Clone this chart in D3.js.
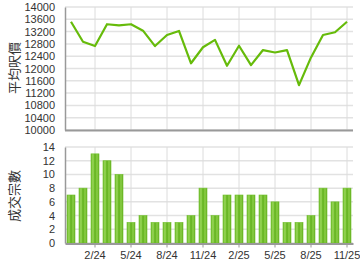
<!DOCTYPE html>
<html>
<head>
<meta charset="utf-8">
<script src="https://cdn.jsdelivr.net/npm/d3@7"></script>
<style>
    body { margin: 0; background: #fff; }
    svg text { font-family: "Liberation Sans", Arial, sans-serif; fill: #333; }
    .title { font-family: "Noto Sans CJK TC", sans-serif; font-size: 13px; }
</style>
</head>
<body>
<div id="chart"></div>
<script>

// months (12/23 .. 11/25)
let months = ["12/23","1/24","2/24","3/24","4/24","5/24","6/24","7/24","8/24","9/24","10/24","11/24",
              "12/24","1/25","2/25","3/25","4/25","5/25","6/25","7/25","8/25","9/25","10/25","11/25"];

// average price per sq ft
let avgPrice = [13520, 12870, 12730, 13440, 13400, 13440, 13230, 12730, 13090, 13220, 12170, 12690,
                12930, 12090, 12740, 12110, 12600, 12520, 12600, 11460, 12360, 13090, 13180, 13520];

// number of transactions
let deals = [7, 8, 13, 12, 10, 3, 4, 3, 3, 3, 4, 8, 4, 7, 7, 7, 7, 6, 3, 3, 4, 8, 6, 8];

let xTicks = ["2/24","5/24","8/24","11/24","2/25","5/25","8/25","11/25"];
let priceTicks = d3.range(10000, 14001, 400);
let dealTicks = d3.range(0, 15, 2);

let width = 360, height = 270;
let left = 65, right = 353;

let svg = d3.select("#chart").append("svg")
    .attr("width", width)
    .attr("height", height);

// gradient for the bars
let grad = svg.append("defs").append("linearGradient")
    .attr("id", "barGrad")
    .attr("x1", "0%").attr("x2", "100%").attr("y1", "0%").attr("y2", "0%");
[["0%", "#6cb82a"], ["25%", "#9ad85a"], ["50%", "#5fb01a"], ["75%", "#8ccf48"], ["100%", "#62ad1e"]]
    .forEach(s => grad.append("stop").attr("offset", s[0]).attr("stop-color", s[1]));

let x = d3.scaleBand()
    .domain(months)
    .range([left, right]);

let yPrice = d3.scaleLinear()
    .domain([10000, 14000])
    .range([130, 7]);

let yDeals = d3.scaleLinear()
    .domain([0, 14])
    .range([243, 147]);

function grid(g, y, ticks, y0, y1) {
    g.selectAll(".hgrid").data(ticks).enter().append("line")
        .attr("x1", left).attr("x2", right)
        .attr("y1", d => y(d)).attr("y2", d => y(d))
        .attr("stroke", "#e2e2e2").attr("stroke-width", 1.5);
    g.selectAll(".vgrid").data(xTicks).enter().append("line")
        .attr("x1", d => x(d) + x.bandwidth() / 2).attr("x2", d => x(d) + x.bandwidth() / 2)
        .attr("y1", y0).attr("y2", y1)
        .attr("stroke", "#dcdcdc").attr("stroke-width", 1);
}

// ---- top chart: price line
let priceChart = svg.append("g");
grid(priceChart, yPrice, priceTicks, 7, 130);

priceChart.append("g")
    .attr("transform", `translate(${left},0)`)
    .call(d3.axisLeft(yPrice).tickValues(priceTicks).tickFormat(d3.format("d")).tickSize(0).tickPadding(10))
    .call(g => g.select(".domain").attr("stroke", "#999").attr("stroke-width", 1.5))
    .call(g => g.selectAll("text").attr("font-size", "11px").attr("fill", "#333"));

priceChart.append("line")
    .attr("x1", left).attr("x2", right).attr("y1", 130.5).attr("y2", 130.5)
    .attr("stroke", "#999").attr("stroke-width", 2);

let line = d3.line()
    .x((d, i) => x(months[i]) + x.bandwidth() / 2)
    .y(d => yPrice(d));

priceChart.append("path")
    .datum(avgPrice)
    .attr("d", line)
    .attr("fill", "none")
    .attr("stroke", "#66bb0a")
    .attr("stroke-width", 2.2)
    .attr("stroke-linejoin", "round");

priceChart.append("text")
    .attr("class", "title")
    .attr("transform", `translate(19, 68) rotate(-90)`)
    .attr("text-anchor", "middle")
    .text("平均呎價");

// ---- bottom chart: deals bars
let dealChart = svg.append("g");
grid(dealChart, yDeals, dealTicks, 147, 243);

dealChart.selectAll(".bar").data(deals).enter().append("rect")
    .attr("class", "bar")
    .attr("x", (d, i) => x(months[i]) + 2)
    .attr("width", x.bandwidth() - 4)
    .attr("y", d => yDeals(d))
    .attr("height", d => yDeals(0) - yDeals(d))
    .attr("fill", "url(#barGrad)")
    .attr("stroke", "#6fbf2a")
    .attr("stroke-width", 0.6);

dealChart.append("g")
    .attr("transform", `translate(${left},0)`)
    .call(d3.axisLeft(yDeals).tickValues(dealTicks).tickSize(0).tickPadding(10))
    .call(g => g.select(".domain").attr("stroke", "#999").attr("stroke-width", 1.5))
    .call(g => g.selectAll("text").attr("font-size", "11px").attr("fill", "#333"));

dealChart.append("g")
    .attr("transform", `translate(0,243.5)`)
    .call(d3.axisBottom(x).tickValues(xTicks).tickSizeInner(4).tickSizeOuter(0).tickPadding(4))
    .call(g => g.select(".domain").attr("stroke", "#999").attr("stroke-width", 2))
    .call(g => g.selectAll(".tick line").attr("stroke", "#999"))
    .call(g => g.selectAll("text").attr("font-size", "11px").attr("fill", "#333"));

dealChart.append("text")
    .attr("class", "title")
    .attr("transform", `translate(19, 196) rotate(-90)`)
    .attr("text-anchor", "middle")
    .text("成交宗數");

</script>
</body>
</html>
